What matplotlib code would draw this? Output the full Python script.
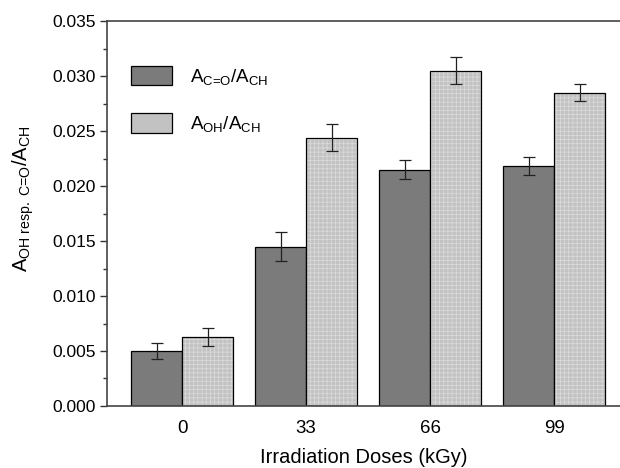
import matplotlib
matplotlib.use("Agg")
import matplotlib.pyplot as plt
from matplotlib.patches import Patch
import numpy as np

plt.rcParams['font.family'] = ['Liberation Sans', 'DejaVu Sans']
plt.rcParams['mathtext.fontset'] = 'custom'
plt.rcParams['mathtext.rm'] = 'Liberation Sans'
plt.rcParams['mathtext.it'] = 'Liberation Sans'
plt.rcParams['hatch.linewidth'] = 0.5

doses = ['0', '33', '66', '99']
co_ch = [0.0050, 0.0145, 0.0215, 0.0218]
co_ch_err = [0.0007, 0.0013, 0.0009, 0.0008]
oh_ch = [0.0063, 0.0244, 0.0305, 0.0285]
oh_ch_err = [0.0008, 0.0012, 0.0012, 0.0008]

fig = plt.figure(figsize=(6.2, 4.68), dpi=100)
ax = fig.add_axes([0.1726, 0.1325, 0.8274, 0.8225])

x = np.arange(len(doses))
w = 0.411
err_kw = dict(ecolor='#222222', elinewidth=0.9, capsize=4, capthick=0.9)
ax.bar(x - w/2, co_ch, w, yerr=co_ch_err, color='#7b7b7b', edgecolor='black',
       linewidth=0.9, error_kw=err_kw)
# light bars: fine grid pattern then outline
ax.bar(x + w/2, oh_ch, w, color='#c2c2c2', edgecolor='#dcdcdc', hatch='++++',
       linewidth=0)
ax.bar(x + w/2, oh_ch, w, yerr=oh_ch_err, fill=False, edgecolor='black',
       linewidth=0.9, error_kw=err_kw)

ax.set_xlim(-0.605, 3.532)
ax.set_ylim(0, 0.035)
ax.set_xticks(x)
ax.set_xticklabels(doses)
yt = np.arange(0, 0.0351, 0.005)
ax.set_yticks(yt)
ax.set_yticklabels([f'{v:.3f}' for v in yt])
ax.set_yticks(np.arange(0.0025, 0.035, 0.005), minor=True)
ax.tick_params(axis='y', which='major', direction='out', length=5, width=1, labelsize=12.5, color='#333333', pad=3)
ax.tick_params(axis='y', which='minor', direction='out', length=3, width=1, color='#333333')
ax.tick_params(axis='x', length=0, labelsize=13.5, pad=10)

for s in ['left', 'bottom', 'top']:
    ax.spines[s].set_color('#444444')
    ax.spines[s].set_linewidth(1.2)
ax.spines['right'].set_visible(False)

ax.set_xlabel('Irradiation Doses (kGy)', fontsize=14.5, labelpad=8)
ax.set_ylabel(r'$\mathregular{A_{OH\ resp.\ \text{C=O}}/A_{CH}}$', fontsize=14.5)
ax.yaxis.set_label_coords(-0.139, 0.538)

handles = [Patch(facecolor='#7b7b7b', edgecolor='black', linewidth=0.9),
           Patch(facecolor='#c2c2c2', edgecolor='black', linewidth=0.9)]
labels = [r'$\mathregular{A_{\text{C=O}}/A_{CH}}$', r'$\mathregular{A_{OH}/A_{CH}}$']
ax.legend(handles, labels, loc='upper left', bbox_to_anchor=(0.014, 0.928), frameon=False, fontsize=13.5,
          handlelength=2.2, handleheight=1.25, handletextpad=0.95, labelspacing=1.4)

fig.savefig('out.png', dpi=100)
